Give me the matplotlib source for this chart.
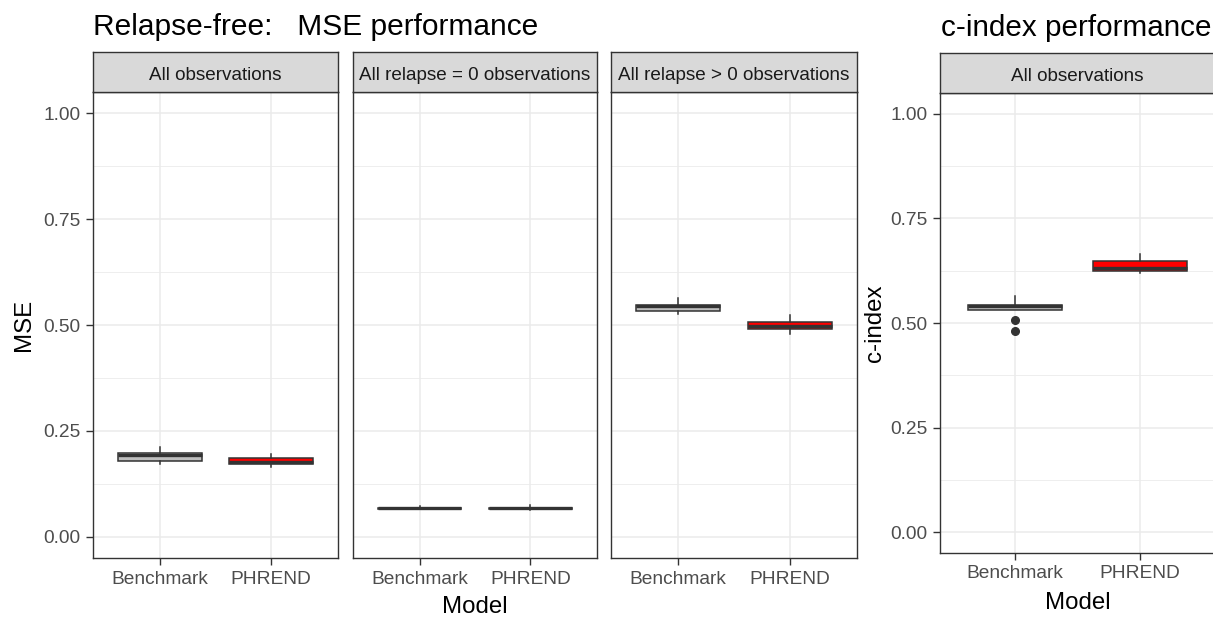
import matplotlib
matplotlib.use("Agg")
import matplotlib.pyplot as plt

plt.rcParams['font.family'] = ['Liberation Sans', 'DejaVu Sans']

# ---------------- data ----------------
models = ["Benchmark", "PHREND"]
mse_facets = ["All observations", "All relapse = 0 observations", "All relapse > 0 observations"]
cindex_facet = "All observations"

# box statistics per facet: [Benchmark, PHREND]
mse_q1 = [[0.179, 0.172], [0.0665, 0.0655], [0.532, 0.4894]]
mse_med = [[0.194, 0.176], [0.067, 0.067], [0.546, 0.498]]
mse_q3 = [[0.197, 0.186], [0.0675, 0.069], [0.547, 0.5066]]
mse_lo = [[0.172, 0.165], [0.066, 0.064], [0.527, 0.478]]
mse_hi = [[0.212, 0.195], [0.072, 0.076], [0.564, 0.523]]
mse_fliers = [[[], []], [[], []], [[], []]]

c_q1 = [0.530, 0.625]
c_med = [0.540, 0.631]
c_q3 = [0.544, 0.6475]
c_lo = [0.530, 0.620]
c_hi = [0.564, 0.665]
c_fliers = [[0.508, 0.480], []]

y_ticks = [0.00, 0.25, 0.50, 0.75, 1.00]
y_ticklabels = ["0.00", "0.25", "0.50", "0.75", "1.00"]
minor_ticks = [0.125, 0.375, 0.625, 0.875]

fill_colors = ["#BEBEBE", "#FF0000"]

# ---------------- layout ----------------
W, H = 1213, 618
fig = plt.figure(figsize=(W / 100, H / 100), dpi=100)
fig.patch.set_facecolor("white")

def rect(x0, y0, x1, y1):
    return [x0 / W, 1 - y1 / H, (x1 - x0) / W, (y1 - y0) / H]

DARK = "#333333"
TICKC = "#4D4D4D"
GRID = "#EBEBEB"
TS = 13.8
SS = 13.6

def style_panel(ax, show_y):
    ax.set_xlim(0.4, 2.6)
    ax.set_ylim(-0.05, 1.05)
    ax.set_xticks([1, 2])
    ax.set_xticklabels(models)
    ax.set_yticks(y_ticks)
    ax.set_yticks(minor_ticks, minor=True)
    ax.grid(True, which="major", color=GRID, lw=1.1, zorder=0)
    ax.grid(True, which="minor", axis="y", color=GRID, lw=0.6, zorder=0)
    ax.set_axisbelow(True)
    for s in ax.spines.values():
        s.set_color(DARK)
        s.set_linewidth(1.0)
    ax.tick_params(axis="both", which="major", length=5, width=1, color=DARK,
                   labelcolor=TICKC, labelsize=TS, pad=4)
    ax.tick_params(axis="y", which="minor", length=0)
    if show_y:
        ax.set_yticklabels(y_ticklabels)
    else:
        ax.tick_params(axis="y", which="major", length=0, labelleft=False)

def draw_boxes(ax, q1, med, q3, lo, hi, fl):
    stats = []
    for i in range(2):
        stats.append(dict(q1=q1[i], med=med[i], q3=q3[i], whislo=lo[i], whishi=hi[i],
                          fliers=fl[i], label=models[i]))
    bp = ax.bxp(stats, positions=[1, 2], widths=0.75, patch_artist=True, showcaps=False,
                boxprops=dict(edgecolor=DARK, linewidth=1.1),
                medianprops=dict(color=DARK, linewidth=2.4, solid_capstyle="butt"),
                whiskerprops=dict(color=DARK, linewidth=1.1),
                flierprops=dict(marker="o", markerfacecolor=DARK, markeredgecolor=DARK,
                                markersize=5.5, linestyle="none"),
                zorder=3)
    for patch, c in zip(bp["boxes"], fill_colors):
        patch.set_facecolor(c)
    ax.set_xticks([1, 2])
    ax.set_xticklabels(models)

def strip(x0, x1, y0, y1, label):
    sa = fig.add_axes(rect(x0, y0, x1, y1))
    sa.set_facecolor("#D9D9D9")
    sa.set_xticks([])
    sa.set_yticks([])
    for s in sa.spines.values():
        s.set_color(DARK)
        s.set_linewidth(1.0)
    sa.text(0.5, 0.47, label, ha="center", va="center_baseline", fontsize=SS, color="#1A1A1A",
            transform=sa.transAxes)

# left MSE panels
panel_x = [(93, 338), (353, 597), (611, 857)]
for k, (x0, x1) in enumerate(panel_x):
    ax = fig.add_axes(rect(x0, 92, x1, 558))
    draw_boxes(ax, mse_q1[k], mse_med[k], mse_q3[k], mse_lo[k], mse_hi[k], mse_fliers[k])
    style_panel(ax, show_y=(k == 0))
    strip(x0, x1, 52, 92, mse_facets[k])

# right c-index panel
axr = fig.add_axes(rect(940, 93, 1215, 553))
draw_boxes(axr, c_q1, c_med, c_q3, c_lo, c_hi, c_fliers)
style_panel(axr, show_y=True)
strip(940, 1215, 53, 93, cindex_facet)

# titles and labels
fig.text(93 / W, 1 - 35 / H, "Relapse-free:   MSE performance", fontsize=21.5,
         ha="left", va="baseline", color="black")
fig.text(941 / W, 1 - 36 / H, "c-index performance", fontsize=21.3,
         ha="left", va="baseline", color="black")
fig.text(475 / W, 1 - 607 / H, "Model", fontsize=17.3, ha="center", va="center")
fig.text(1078 / W, 1 - 603 / H, "Model", fontsize=17.3, ha="center", va="center")
fig.text(24 / W, 1 - 325 / H, "MSE", fontsize=17.3, ha="center", va="center", rotation=90)
fig.text(875 / W, 1 - 323 / H, "c-index", fontsize=17.3, ha="center", va="center", rotation=90)

fig.savefig("out.png", dpi=100, facecolor="white")
